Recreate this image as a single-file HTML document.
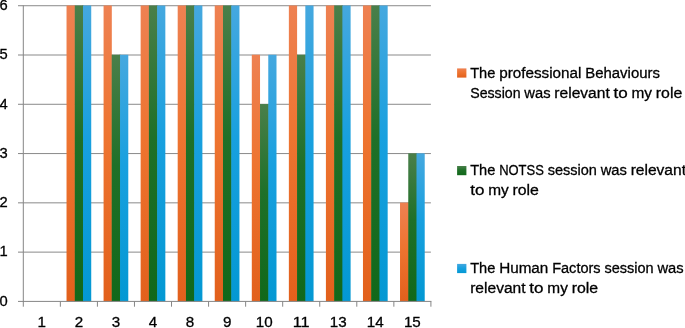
<!DOCTYPE html>
<html><head><meta charset="utf-8"><title>Chart</title>
<style>
html,body{margin:0;padding:0;background:#fff;}
body{width:685px;height:328px;overflow:hidden;}
svg{display:block;}
text{font-family:"Liberation Sans",sans-serif;font-size:15.5px;fill:#000;stroke:#000;stroke-width:0.3px;}
</style></head><body>
<svg width="685" height="328" viewBox="0 0 685 328">
<defs>
<linearGradient id="go" x1="0" y1="0" x2="0" y2="1"><stop offset="0" stop-color="#ee8152"/><stop offset="0.45" stop-color="#ee7430"/><stop offset="1" stop-color="#e2601c"/></linearGradient>
<linearGradient id="gg" x1="0" y1="0" x2="0" y2="1"><stop offset="0" stop-color="#4a7f4a"/><stop offset="0.45" stop-color="#1f7028"/><stop offset="1" stop-color="#11681a"/></linearGradient>
<linearGradient id="gb" x1="0" y1="0" x2="0" y2="1"><stop offset="0" stop-color="#45a8df"/><stop offset="0.45" stop-color="#18a0df"/><stop offset="1" stop-color="#0398d3"/></linearGradient>
</defs>
<rect width="685" height="328" fill="#fff"/>

<rect x="23.30" y="251.62" width="407.60" height="1" fill="#8a8a8a"/>
<rect x="23.30" y="202.34" width="407.60" height="1" fill="#8a8a8a"/>
<rect x="23.30" y="153.06" width="407.60" height="1" fill="#8a8a8a"/>
<rect x="23.30" y="103.78" width="407.60" height="1" fill="#8a8a8a"/>
<rect x="23.30" y="54.50" width="407.60" height="1" fill="#8a8a8a"/>
<rect x="23.30" y="5.22" width="407.60" height="1" fill="#8a8a8a"/>
<rect x="74.16" y="5.47" width="1.2" height="295.93" fill="url(#go)"/>
<rect x="82.40" y="5.47" width="1.2" height="295.93" fill="url(#gg)"/>
<rect x="66.53" y="5.47" width="8.23" height="295.93" fill="url(#go)"/>
<rect x="74.76" y="5.47" width="8.23" height="295.93" fill="url(#gg)"/>
<rect x="83.00" y="5.47" width="8.23" height="295.93" fill="url(#gb)"/>
<rect x="111.22" y="54.75" width="1.2" height="246.65" fill="url(#gg)"/>
<rect x="119.45" y="54.75" width="1.2" height="246.65" fill="url(#gg)"/>
<rect x="103.58" y="5.47" width="8.23" height="295.93" fill="url(#go)"/>
<rect x="111.82" y="54.75" width="8.23" height="246.65" fill="url(#gg)"/>
<rect x="120.05" y="54.75" width="8.23" height="246.65" fill="url(#gb)"/>
<rect x="148.27" y="5.47" width="1.2" height="295.93" fill="url(#go)"/>
<rect x="156.51" y="5.47" width="1.2" height="295.93" fill="url(#gg)"/>
<rect x="140.64" y="5.47" width="8.23" height="295.93" fill="url(#go)"/>
<rect x="148.87" y="5.47" width="8.23" height="295.93" fill="url(#gg)"/>
<rect x="157.11" y="5.47" width="8.23" height="295.93" fill="url(#gb)"/>
<rect x="185.33" y="5.47" width="1.2" height="295.93" fill="url(#go)"/>
<rect x="193.56" y="5.47" width="1.2" height="295.93" fill="url(#gg)"/>
<rect x="177.69" y="5.47" width="8.23" height="295.93" fill="url(#go)"/>
<rect x="185.93" y="5.47" width="8.23" height="295.93" fill="url(#gg)"/>
<rect x="194.16" y="5.47" width="8.23" height="295.93" fill="url(#gb)"/>
<rect x="222.38" y="5.47" width="1.2" height="295.93" fill="url(#go)"/>
<rect x="230.62" y="5.47" width="1.2" height="295.93" fill="url(#gg)"/>
<rect x="214.75" y="5.47" width="8.23" height="295.93" fill="url(#go)"/>
<rect x="222.98" y="5.47" width="8.23" height="295.93" fill="url(#gg)"/>
<rect x="231.22" y="5.47" width="8.23" height="295.93" fill="url(#gb)"/>
<rect x="259.44" y="104.03" width="1.2" height="197.37" fill="url(#gg)"/>
<rect x="267.67" y="104.03" width="1.2" height="197.37" fill="url(#gg)"/>
<rect x="251.80" y="54.75" width="8.23" height="246.65" fill="url(#go)"/>
<rect x="260.04" y="104.03" width="8.23" height="197.37" fill="url(#gg)"/>
<rect x="268.27" y="54.75" width="8.23" height="246.65" fill="url(#gb)"/>
<rect x="296.49" y="54.75" width="1.2" height="246.65" fill="url(#gg)"/>
<rect x="304.73" y="54.75" width="1.2" height="246.65" fill="url(#gg)"/>
<rect x="288.86" y="5.47" width="8.23" height="295.93" fill="url(#go)"/>
<rect x="297.09" y="54.75" width="8.23" height="246.65" fill="url(#gg)"/>
<rect x="305.33" y="5.47" width="8.23" height="295.93" fill="url(#gb)"/>
<rect x="333.55" y="5.47" width="1.2" height="295.93" fill="url(#go)"/>
<rect x="341.78" y="5.47" width="1.2" height="295.93" fill="url(#gg)"/>
<rect x="325.91" y="5.47" width="8.23" height="295.93" fill="url(#go)"/>
<rect x="334.15" y="5.47" width="8.23" height="295.93" fill="url(#gg)"/>
<rect x="342.38" y="5.47" width="8.23" height="295.93" fill="url(#gb)"/>
<rect x="370.60" y="5.47" width="1.2" height="295.93" fill="url(#go)"/>
<rect x="378.84" y="5.47" width="1.2" height="295.93" fill="url(#gg)"/>
<rect x="362.97" y="5.47" width="8.23" height="295.93" fill="url(#go)"/>
<rect x="371.20" y="5.47" width="8.23" height="295.93" fill="url(#gg)"/>
<rect x="379.44" y="5.47" width="8.23" height="295.93" fill="url(#gb)"/>
<rect x="407.66" y="202.59" width="1.2" height="98.81" fill="url(#go)"/>
<rect x="415.89" y="153.31" width="1.2" height="148.09" fill="url(#gg)"/>
<rect x="400.02" y="202.59" width="8.23" height="98.81" fill="url(#go)"/>
<rect x="408.26" y="153.31" width="8.23" height="148.09" fill="url(#gg)"/>
<rect x="416.49" y="153.31" width="8.23" height="148.09" fill="url(#gb)"/>
<rect x="22.80" y="5.22" width="1" height="296.68" fill="#868686"/>
<rect x="18.00" y="300.90" width="413.40" height="1" fill="#868686"/>
<rect x="18.00" y="251.62" width="5.3" height="1" fill="#868686"/>
<rect x="18.00" y="202.34" width="5.3" height="1" fill="#868686"/>
<rect x="18.00" y="153.06" width="5.3" height="1" fill="#868686"/>
<rect x="18.00" y="103.78" width="5.3" height="1" fill="#868686"/>
<rect x="18.00" y="54.50" width="5.3" height="1" fill="#868686"/>
<rect x="18.00" y="5.22" width="5.3" height="1" fill="#868686"/>
<rect x="22.80" y="301.40" width="1" height="5.3" fill="#868686"/>
<rect x="59.85" y="301.40" width="1" height="5.3" fill="#868686"/>
<rect x="96.91" y="301.40" width="1" height="5.3" fill="#868686"/>
<rect x="133.96" y="301.40" width="1" height="5.3" fill="#868686"/>
<rect x="171.02" y="301.40" width="1" height="5.3" fill="#868686"/>
<rect x="208.07" y="301.40" width="1" height="5.3" fill="#868686"/>
<rect x="245.13" y="301.40" width="1" height="5.3" fill="#868686"/>
<rect x="282.18" y="301.40" width="1" height="5.3" fill="#868686"/>
<rect x="319.24" y="301.40" width="1" height="5.3" fill="#868686"/>
<rect x="356.29" y="301.40" width="1" height="5.3" fill="#868686"/>
<rect x="393.35" y="301.40" width="1" height="5.3" fill="#868686"/>
<rect x="430.40" y="301.40" width="1" height="5.3" fill="#868686"/>
<text x="-0.40" y="305.70" textLength="8.20" lengthAdjust="spacingAndGlyphs">0</text>
<text x="-0.40" y="256.42" textLength="8.20" lengthAdjust="spacingAndGlyphs">1</text>
<text x="-0.40" y="207.14" textLength="8.20" lengthAdjust="spacingAndGlyphs">2</text>
<text x="-0.40" y="157.86" textLength="8.20" lengthAdjust="spacingAndGlyphs">3</text>
<text x="-0.40" y="108.58" textLength="8.20" lengthAdjust="spacingAndGlyphs">4</text>
<text x="-0.40" y="59.30" textLength="8.20" lengthAdjust="spacingAndGlyphs">5</text>
<text x="-0.40" y="10.02" textLength="8.20" lengthAdjust="spacingAndGlyphs">6</text>
<text x="37.60" y="327.40" textLength="8.45" lengthAdjust="spacingAndGlyphs">1</text>
<text x="74.66" y="327.40" textLength="8.45" lengthAdjust="spacingAndGlyphs">2</text>
<text x="111.71" y="327.40" textLength="8.45" lengthAdjust="spacingAndGlyphs">3</text>
<text x="148.77" y="327.40" textLength="8.45" lengthAdjust="spacingAndGlyphs">4</text>
<text x="185.82" y="327.40" textLength="8.45" lengthAdjust="spacingAndGlyphs">8</text>
<text x="222.88" y="327.40" textLength="8.45" lengthAdjust="spacingAndGlyphs">9</text>
<text x="255.70" y="327.40" textLength="16.90" lengthAdjust="spacingAndGlyphs">10</text>
<text x="292.76" y="327.40" textLength="16.90" lengthAdjust="spacingAndGlyphs">11</text>
<text x="329.81" y="327.40" textLength="16.90" lengthAdjust="spacingAndGlyphs">13</text>
<text x="366.87" y="327.40" textLength="16.90" lengthAdjust="spacingAndGlyphs">14</text>
<text x="403.92" y="327.40" textLength="16.90" lengthAdjust="spacingAndGlyphs">15</text>
<rect x="457.1" y="68.40" width="9.3" height="9.2" fill="url(#go)"/>
<text y="77.60"><tspan x="470.20" textLength="25.18" lengthAdjust="spacingAndGlyphs">The</tspan> <tspan x="499.15" textLength="82.29" lengthAdjust="spacingAndGlyphs">professional</tspan> <tspan x="585.20" textLength="74.78" lengthAdjust="spacingAndGlyphs">Behaviours</tspan></text>
<text y="98.00"><tspan x="470.20" textLength="50.37" lengthAdjust="spacingAndGlyphs">Session</tspan> <tspan x="524.34" textLength="26.23" lengthAdjust="spacingAndGlyphs">was</tspan> <tspan x="554.34" textLength="55.39" lengthAdjust="spacingAndGlyphs">relevant</tspan> <tspan x="613.50" textLength="14.21" lengthAdjust="spacingAndGlyphs">to</tspan> <tspan x="631.48" textLength="20.55" lengthAdjust="spacingAndGlyphs">my</tspan> <tspan x="655.80" textLength="26.45" lengthAdjust="spacingAndGlyphs">role</tspan></text>
<rect x="457.1" y="166.00" width="9.3" height="9.2" fill="url(#gg)"/>
<text y="175.10"><tspan x="470.20" textLength="25.18" lengthAdjust="spacingAndGlyphs">The</tspan> <tspan x="499.15" textLength="44.71" lengthAdjust="spacingAndGlyphs">NOTSS</tspan> <tspan x="547.63" textLength="49.23" lengthAdjust="spacingAndGlyphs">session</tspan> <tspan x="600.63" textLength="26.23" lengthAdjust="spacingAndGlyphs">was</tspan> <tspan x="630.63" textLength="55.39" lengthAdjust="spacingAndGlyphs">relevant</tspan></text>
<text y="195.30"><tspan x="470.20" textLength="14.21" lengthAdjust="spacingAndGlyphs">to</tspan> <tspan x="488.18" textLength="20.55" lengthAdjust="spacingAndGlyphs">my</tspan> <tspan x="512.51" textLength="26.45" lengthAdjust="spacingAndGlyphs">role</tspan></text>
<rect x="457.1" y="263.90" width="9.3" height="9.2" fill="url(#gb)"/>
<text y="273.00"><tspan x="470.20" textLength="25.18" lengthAdjust="spacingAndGlyphs">The</tspan> <tspan x="499.15" textLength="49.21" lengthAdjust="spacingAndGlyphs">Human</tspan> <tspan x="552.13" textLength="48.51" lengthAdjust="spacingAndGlyphs">Factors</tspan> <tspan x="604.40" textLength="49.23" lengthAdjust="spacingAndGlyphs">session</tspan> <tspan x="657.40" textLength="26.23" lengthAdjust="spacingAndGlyphs">was</tspan></text>
<text y="293.20"><tspan x="470.20" textLength="55.39" lengthAdjust="spacingAndGlyphs">relevant</tspan> <tspan x="529.36" textLength="14.21" lengthAdjust="spacingAndGlyphs">to</tspan> <tspan x="547.34" textLength="20.55" lengthAdjust="spacingAndGlyphs">my</tspan> <tspan x="571.66" textLength="26.45" lengthAdjust="spacingAndGlyphs">role</tspan></text>
</svg></body></html>
